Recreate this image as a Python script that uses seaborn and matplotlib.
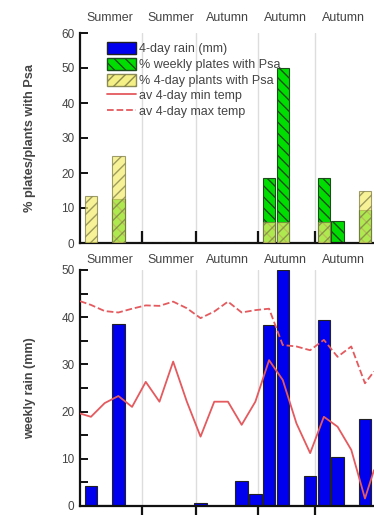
import matplotlib
matplotlib.use('Agg')
import matplotlib.pyplot as plt
import seaborn as sns
import numpy as np
from matplotlib.patches import Patch
from matplotlib.lines import Line2D

# week slots along the time axis
slots = list(range(21))

rain = [4.3, 0.2, 38.5, 0, 0, 0.1, 0.1, 0, 0.7, 0, 0, 5.2, 2.6, 38.3, 50, 0, 6.3, 39.4, 10.4, 0.3, 18.5]
plates_pct = [0, 0, 12.5, 0, 0, 0, 0, 0, 0, 0, 0, 0, 0, 18.5, 50, 0, 0, 18.5, 6.2, 0, 9.3]
plants_pct = [13.3, 0, 25, 0, 0, 0, 0, 0, 0, 0, 0, 0, 0, 6, 6, 0, 0, 6, 0, 0, 15]

temp_x = [-0.8, 0, 1, 2, 3, 4, 5, 6, 7, 8, 9, 10, 11, 12, 13, 14, 15, 16, 17, 18, 19, 20, 20.66]
min_temp = [19.6, 18.9, 21.8, 23.3, 21.0, 26.3, 22.1, 30.6, 22.1, 14.7, 22.1, 22.1, 17.2, 22.1,
            30.9, 26.7, 17.5, 11.2, 18.9, 16.8, 11.9, 1.6, 7.6]
max_temp = [43.4, 42.6, 41.3, 41.0, 41.8, 42.5, 42.4, 43.3, 41.9, 39.8, 41.2, 43.3, 41.0, 41.5,
            41.8, 34.1, 33.8, 33.0, 35.2, 31.6, 33.8, 26.0, 28.5]

season_labels = ['Summer', 'Summer', 'Autumn', 'Autumn', 'Autumn']
season_x = [1.4, 5.8, 10.0, 14.2, 18.4]
separators = [3.7, 7.7, 12.2, 16.35]

sns.set_style('white')
plt.rcParams['font.family'] = ['Liberation Sans', 'DejaVu Sans']
plt.rcParams['hatch.linewidth'] = 1.0

fig = plt.figure(figsize=(3.74, 5.15), dpi=100)
W, H = 374, 515
ax1 = fig.add_axes([80 / W, (H - 243) / H, (W - 80) / W, 210 / H])
ax2 = fig.add_axes([80 / W, (H - 506) / H, (W - 80) / W, 236 / H])

txt = '#444444'
red = '#e45a5e'
green = '#00dd00'
yellow = '#f4ee70'
xlim = (-0.8, 20.66)

# top panel: detection percentages
sns.barplot(x=slots, y=plates_pct, native_scale=True, width=0.9, errorbar=None, ax=ax1,
            color=green, saturation=1, edgecolor='#1d4d1d', hatch='\\\\\\', linewidth=0.8, zorder=2)
sns.barplot(x=slots, y=plants_pct, native_scale=True, width=0.9, errorbar=None, ax=ax1,
            color=yellow, saturation=1, edgecolor='#7a7a45', hatch='///', linewidth=0.8,
            alpha=0.72, zorder=3)
ax1.set_ylim(0, 60)
ax1.set_yticks(range(0, 61, 10))
ax1.set_ylabel('% plates/plants with Psa', fontsize=9.2, fontweight='bold', color=txt)
ax1.yaxis.set_label_coords(-0.15, 0.5)

handles = [
    Patch(facecolor='#0000ee', edgecolor='#222222', label='4-day rain (mm)'),
    Patch(facecolor=green, edgecolor='#1d4d1d', hatch='\\\\\\', label='% weekly plates with Psa'),
    Patch(facecolor=yellow, edgecolor='#7a7a45', hatch='///', alpha=0.85, label='% 4-day plants with Psa'),
    Line2D([], [], color=red, lw=1.3, label='av 4-day min temp'),
    Line2D([], [], color=red, lw=1.3, ls='--', label='av 4-day max temp'),
]
leg = ax1.legend(handles=handles, loc='upper left', bbox_to_anchor=(107 / W, 1 - 42 / H),
                 bbox_transform=fig.transFigure, frameon=False, fontsize=9,
                 handlelength=2.3, handleheight=1.1, labelspacing=0.2, handletextpad=0.25,
                 borderpad=0, borderaxespad=0)
for t in leg.get_texts():
    t.set_color(txt)

# bottom panel: rain and temperature
sns.barplot(x=slots, y=rain, native_scale=True, width=0.9, errorbar=None, ax=ax2,
            color='#0000ee', saturation=1, edgecolor='#222222', linewidth=0.8, zorder=2)
sns.lineplot(x=temp_x, y=min_temp, ax=ax2, color=red, lw=1.3, zorder=4)
sns.lineplot(x=temp_x, y=max_temp, ax=ax2, color=red, lw=1.3, ls='--', zorder=4)
ax2.set_ylim(0, 50)
ax2.set_yticks(range(0, 51, 10))
ax2.set_yticks(range(5, 50, 10), minor=True)
ax2.set_ylabel('weekly rain (mm)', fontsize=9, fontweight='bold', color=txt)
ax2.yaxis.set_label_coords(-0.15, 0.5)

for ax, ytxt, xdir, xlen in [(ax1, 1.07, 'in', 9), (ax2, 1.042, 'out', 7)]:
    ax.set_xlim(*xlim)
    ax.set_xticks(separators)
    ax.set_xticklabels([])
    ax.set_xlabel('')
    for s in separators:
        ax.axvline(s, color='#dddddd', lw=1, zorder=0)
    for lab, x in zip(season_labels, season_x):
        ax.text(x, ytxt, lab, transform=ax.get_xaxis_transform(), ha='center', va='center',
                fontsize=9, color=txt)
    sns.despine(ax=ax)
    for sp in ['left', 'bottom']:
        ax.spines[sp].set_linewidth(1.6)
        ax.spines[sp].set_color('#111111')
    ax.tick_params(axis='y', which='both', direction='in', length=6, width=1.4,
                   color='#111111', labelsize=8.5, labelcolor=txt, left=True, pad=4)
    ax.tick_params(axis='x', direction=xdir, length=xlen, width=1.6, color='#111111', bottom=True)

fig.savefig('out.png', dpi=100)
